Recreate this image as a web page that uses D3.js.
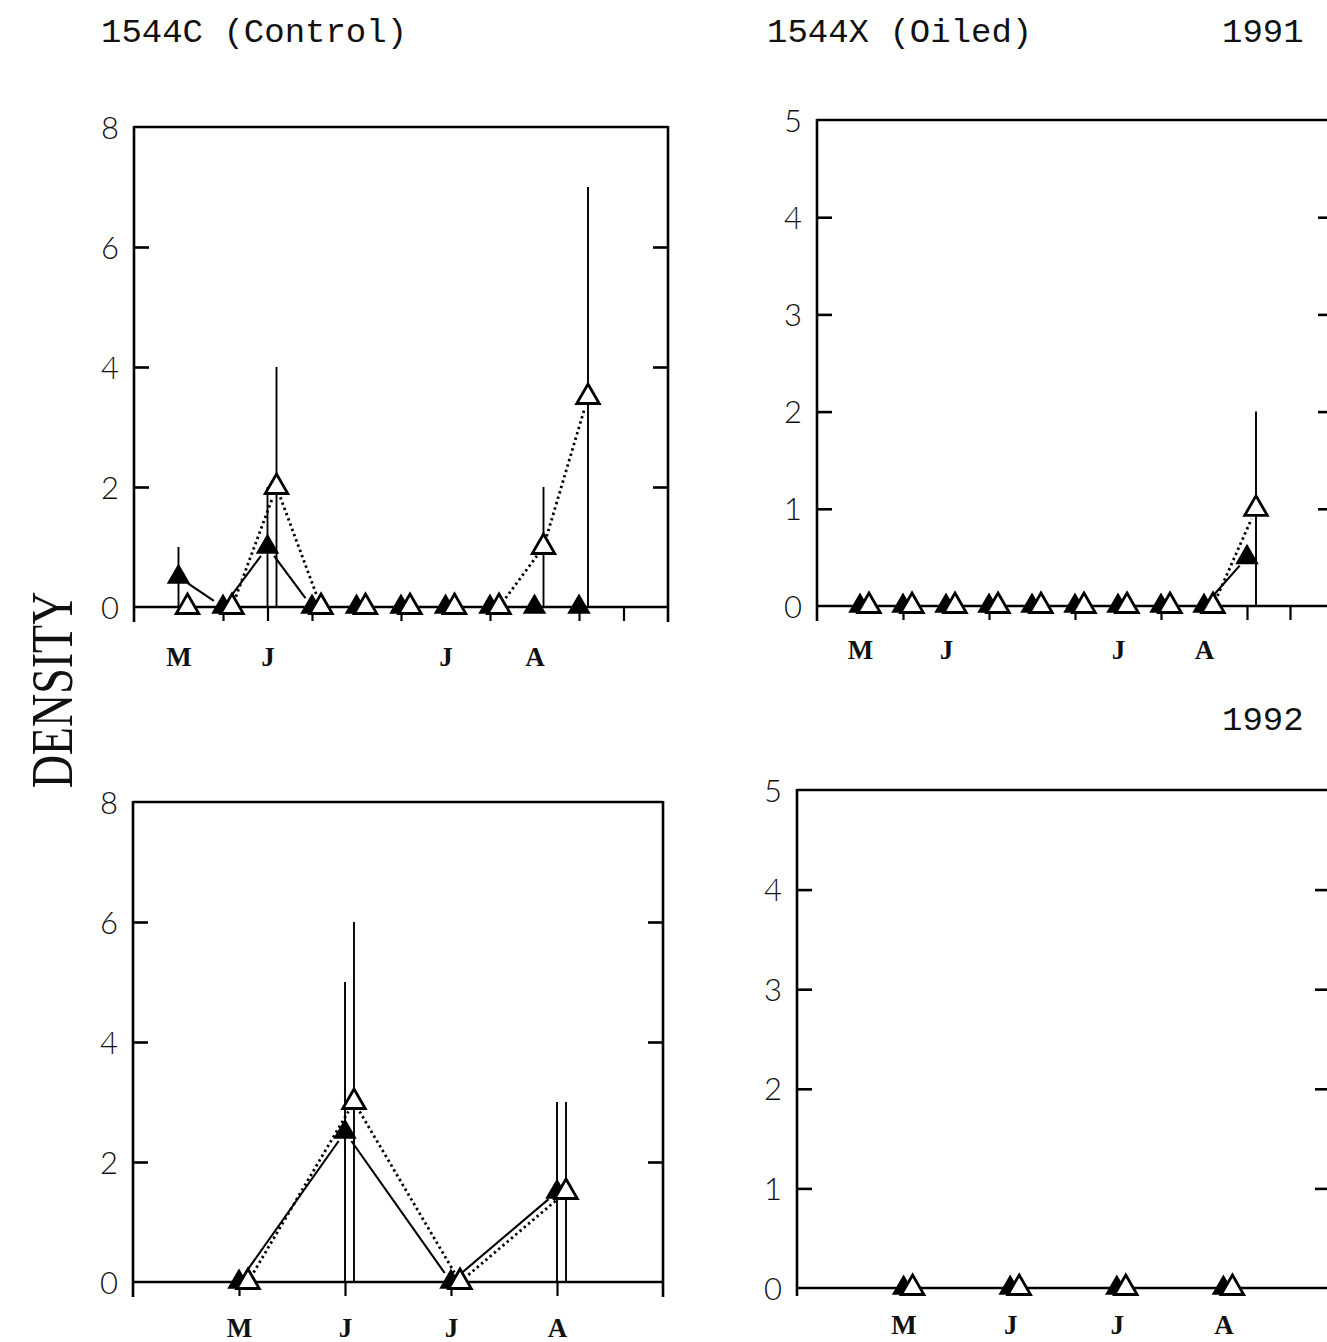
<!DOCTYPE html>
<html>
<head>
<meta charset="utf-8">
<script src="https://cdn.jsdelivr.net/npm/d3@7"></script>
<style>
  html, body { margin: 0; padding: 0; background: #fff; }
  svg { display: block; }
  .ylab text { font-family: Lato, "DejaVu Sans", sans-serif; font-weight: 300; font-size: 31px; fill: #111; }
  .mlab text { font-family: "Liberation Serif", "DejaVu Serif", serif; font-weight: bold; font-size: 27px; fill: #111; }
  .title { font-family: "Liberation Mono", "DejaVu Sans Mono", monospace; font-size: 34px; fill: #111; }
</style>
</head>
<body>
<svg id="chart" width="1327" height="1342"></svg>
<script>
// ---------------- DATA ----------------
// 1991 sampling dates (10 samples); month labels at sample indices
const months1991 = ["M", "J", "J", "A"];
const monthIdx1991 = [0, 2, 6, 8];
const tickIdxControl1991 = [1, 2, 3, 5, 7, 9, 10];
const tickIdxOiled1991 = [1, 3, 5, 7, 9, 10];

// 1544C (Control) 1991
const control1991Solid = [0.5, 0, 1, 0, 0, 0, 0, 0, 0, 0];
const control1991SolidSE = [0.5, 0, 1, 0, 0, 0, 0, 0, 0, 0];
const control1991Open = [0, 0, 2, 0, 0, 0, 0, 0, 1, 3.5];
const control1991OpenSE = [0, 0, 2, 0, 0, 0, 0, 0, 1, 3.5];

// 1544X (Oiled) 1991
const oiled1991Solid = [0, 0, 0, 0, 0, 0, 0, 0, 0, 0.5];
const oiled1991SolidSE = [0, 0, 0, 0, 0, 0, 0, 0, 0, 0];
const oiled1991Open = [0, 0, 0, 0, 0, 0, 0, 0, 0, 1];
const oiled1991OpenSE = [0, 0, 0, 0, 0, 0, 0, 0, 0, 1];

// 1992 sampling (4 samples)
const months1992 = ["M", "J", "J", "A"];
const monthIdx1992 = [0, 1, 2, 3];
const tickIdxControl1992 = [0, 1, 2, 3];
const tickIdxOiled1992 = [];

// 1544C (Control) 1992
const control1992Solid = [0, 2.5, 0, 1.5];
const control1992SolidSE = [0, 2.5, 0, 1.5];
const control1992Open = [0, 3, 0, 1.5];
const control1992OpenSE = [0, 3, 0, 1.5];

// 1544X (Oiled) 1992
const oiled1992Solid = [0, 0, 0, 0];
const oiled1992SolidSE = [0, 0, 0, 0];
const oiled1992Open = [0, 0, 0, 0];
const oiled1992OpenSE = [0, 0, 0, 0];

const yTicksControl = [0, 2, 4, 6, 8];
const yTicksOiled = [0, 1, 2, 3, 4, 5];

// ---------------- LAYOUT ----------------
const svg = d3.select("#chart");
svg.append("rect").attr("width", 1327).attr("height", 1342).attr("fill", "#fff");

const panels = [
  { left: 134, right: 668, top: 127, y0: 607, ymax: 8, slots: 12, yTicks: yTicksControl, labPad: 40,
    months: months1991, monthIdx: monthIdx1991, tickIdx: tickIdxControl1991, ext: 15,
    solid: control1991Solid, solidSE: control1991SolidSE, open: control1991Open, openSE: control1991OpenSE },
  { left: 817, right: 1333, top: 120, y0: 606, ymax: 5, slots: 12, yTicks: yTicksOiled, labPad: 34,
    months: months1991, monthIdx: monthIdx1991, tickIdx: tickIdxOiled1991, ext: 15,
    solid: oiled1991Solid, solidSE: oiled1991SolidSE, open: oiled1991Open, openSE: oiled1991OpenSE },
  { left: 133, right: 663, top: 802, y0: 1282, ymax: 8, slots: 5, yTicks: yTicksControl, labPad: 36,
    months: months1992, monthIdx: monthIdx1992, tickIdx: tickIdxControl1992, ext: 15,
    solid: control1992Solid, solidSE: control1992SolidSE, open: control1992Open, openSE: control1992OpenSE },
  { left: 797, right: 1330, top: 790, y0: 1288, ymax: 5, slots: 5, yTicks: yTicksOiled, labPad: 27,
    months: months1992, monthIdx: monthIdx1992, tickIdx: tickIdxOiled1992, ext: 8,
    solid: oiled1992Solid, solidSE: oiled1992SolidSE, open: oiled1992Open, openSE: oiled1992OpenSE }
];

const OPEN_DX = 9;      // horizontal dodge of open-triangle series (px)
const GAP = 11;         // gap left between connecting lines and markers (px)
const FRAME_W = 2.6;
const triFilled = d3.symbol().type(d3.symbolTriangle).size(240);
const triOpen = d3.symbol().type(d3.symbolTriangle).size(220);

function shortened(p1, p2, g) {
  const dx = p2[0] - p1[0], dy = p2[1] - p1[1];
  const L = Math.hypot(dx, dy);
  if (L <= 2 * g) return null;
  const ux = dx / L, uy = dy / L;
  return [[p1[0] + ux * g, p1[1] + uy * g], [p2[0] - ux * g, p2[1] - uy * g]];
}

const lineGen = d3.line();

panels.forEach(p => {
  const g = svg.append("g");
  const x = d3.scaleLinear().domain([0, p.slots]).range([p.left, p.right]);
  const y = d3.scaleLinear().domain([0, p.ymax]).range([p.y0, p.top]);
  const xs = i => x(i + 1);

  const solidPts = p.solid.map((v, i) => [xs(i), y(v)]);
  const openPts = p.open.map((v, i) => [xs(i) + OPEN_DX, y(v)]);

  // connecting lines (with gaps around markers); segments lying on the zero line are hidden by the axis
  const drawSeg = (vals, pts, dashed) => {
    for (let i = 0; i < pts.length - 1; i++) {
      if (vals[i] === 0 && vals[i + 1] === 0) continue;
      const s = shortened(pts[i], pts[i + 1], GAP);
      if (!s) continue;
      g.append("path").attr("d", lineGen(s))
        .attr("fill", "none").attr("stroke", "#000")
        .attr("stroke-width", dashed ? 2.8 : 2.1)
        .attr("stroke-dasharray", dashed ? "2.4,3.2" : null);
    }
  };
  drawSeg(p.solid, solidPts, false);
  drawSeg(p.open, openPts, true);

  // error bars
  const drawErr = (vals, ses, dx) => {
    vals.forEach((v, i) => {
      if (ses[i] <= 0) return;
      const lo = Math.max(0, v - ses[i]), hi = v + ses[i];
      g.append("line")
        .attr("x1", xs(i) + dx).attr("x2", xs(i) + dx)
        .attr("y1", y(lo)).attr("y2", y(hi))
        .attr("stroke", "#000").attr("stroke-width", 1.9);
    });
  };
  drawErr(p.solid, p.solidSE, 0);
  drawErr(p.open, p.openSE, OPEN_DX);

  // frame
  const fr = g.append("g").attr("stroke", "#000").attr("stroke-width", FRAME_W).attr("fill", "none");
  fr.append("line").attr("x1", p.left).attr("x2", p.right).attr("y1", y(p.ymax)).attr("y2", y(p.ymax));
  fr.append("line").attr("x1", p.left).attr("x2", p.right).attr("y1", y(0)).attr("y2", y(0));
  fr.append("line").attr("x1", p.left).attr("x2", p.left).attr("y1", y(p.ymax) - 1).attr("y2", y(0) + p.ext);
  fr.append("line").attr("x1", p.right).attr("x2", p.right).attr("y1", y(p.ymax) - 1).attr("y2", y(0) + p.ext);

  // y tick labels (left)
  const inner = p.yTicks.filter(t => t > 0 && t < p.ymax);
  const yl = g.append("g").attr("class", "ylab").attr("transform", `translate(${p.left},0)`)
    .call(d3.axisLeft(y).tickValues(p.yTicks).tickSize(0).tickPadding(15).tickFormat(d3.format("d")));
  yl.select(".domain").remove();
  yl.selectAll("text").attr("dy", "0.36em");

  // inward ticks, left and right
  const tl = g.append("g").attr("transform", `translate(${p.left},0)`)
    .call(d3.axisRight(y).tickValues(inner).tickSize(15).tickFormat(""));
  tl.select(".domain").remove();
  tl.selectAll("line").attr("stroke", "#000").attr("stroke-width", FRAME_W);
  const tr = g.append("g").attr("transform", `translate(${p.right},0)`)
    .call(d3.axisLeft(y).tickValues(inner).tickSize(15).tickFormat(""));
  tr.select(".domain").remove();
  tr.selectAll("line").attr("stroke", "#000").attr("stroke-width", FRAME_W);

  // x ticks below the axis
  const xt = g.append("g").attr("transform", `translate(0,${y(0)})`)
    .call(d3.axisBottom(x).tickValues(p.tickIdx.map(i => i + 1)).tickSize(14).tickFormat(""));
  xt.select(".domain").remove();
  xt.selectAll("line").attr("stroke", "#000").attr("stroke-width", 2.2);

  // month labels
  const ml = g.append("g").attr("class", "mlab").attr("transform", `translate(0,${y(0)})`)
    .call(d3.axisBottom(x).tickValues(p.monthIdx.map(i => i + 1)).tickSize(0).tickPadding(p.labPad)
      .tickFormat((d, k) => p.months[k]));
  ml.select(".domain").remove();

  // markers
  g.selectAll(".mf").data(solidPts).join("path")
    .attr("transform", d => `translate(${d[0]},${d[1]})`)
    .attr("d", triFilled()).attr("fill", "#000");
  g.selectAll(".mo").data(openPts).join("path")
    .attr("transform", d => `translate(${d[0]},${d[1]})`)
    .attr("d", triOpen()).attr("fill", "#fff").attr("stroke", "#000").attr("stroke-width", 2.8)
    .attr("stroke-linejoin", "miter");
});

// titles
svg.append("text").attr("class", "title").attr("x", 101).attr("y", 42).text("1544C (Control)");
svg.append("text").attr("class", "title").attr("x", 767).attr("y", 42).text("1544X (Oiled)");
svg.append("text").attr("class", "title").attr("x", 1222).attr("y", 42).text("1991");
svg.append("text").attr("class", "title").attr("x", 1222).attr("y", 730).text("1992");

// y-axis label
svg.append("text")
  .attr("transform", "translate(72,690) rotate(-90) scale(1,1.3)")
  .attr("text-anchor", "middle")
  .attr("font-family", "'Liberation Serif', 'DejaVu Serif', serif")
  .attr("font-size", 46)
  .attr("fill", "#111")
  .text("DENSITY");
</script>
</body>
</html>
